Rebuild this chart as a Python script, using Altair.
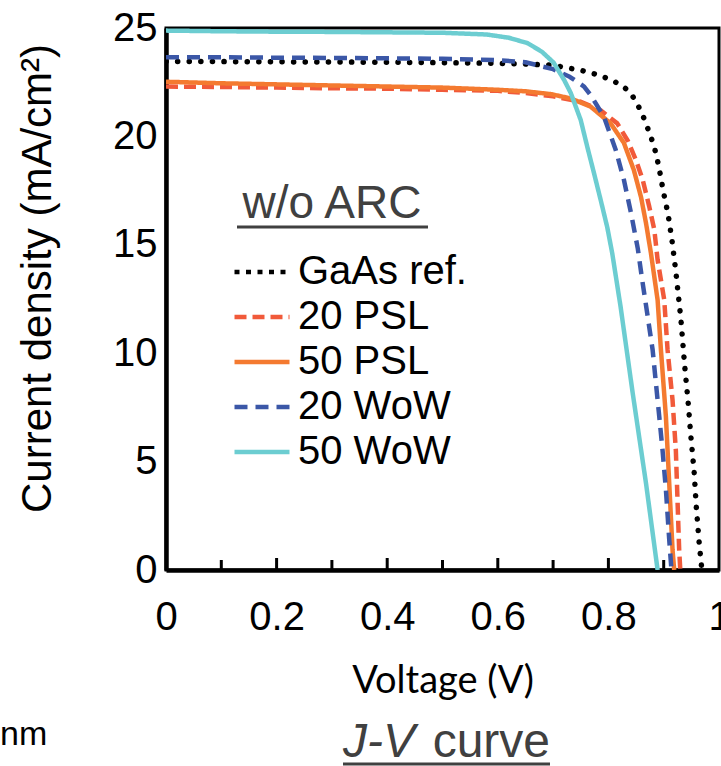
import altair as alt
import pandas as pd

# ---------------- data ----------------
series_names = ["GaAs ref.", "20 PSL", "50 PSL", "20 WoW", "50 WoW"]
series_colors = ["#000000", "#F15A3A", "#F47A30", "#3B57A7", "#6CCDD1"]
series_dashes = [[5, 6.5], [12, 6], [1, 0], [13, 8], [1, 0]]
ref_dots = [0.1, 11.5]

V_gaas = [0, 0.1, 0.2, 0.3, 0.4, 0.5, 0.6, 0.65, 0.7, 0.75, 0.78, 0.806, 0.824, 0.839, 0.85,
          0.86, 0.868, 0.875, 0.882, 0.887, 0.892, 0.899, 0.908, 0.915, 0.922, 0.931, 0.938,
          0.944, 0.949, 0.955, 0.959, 0.964, 0.969]
J_gaas = [23.45, 23.45, 23.44, 23.43, 23.42, 23.4, 23.37, 23.34, 23.28, 23.05, 22.85, 22.6, 22.35,
          22.05, 21.6, 21.1, 20.6, 20.1, 19.6, 19.1, 18.5, 17.5, 16.4, 15.2, 13.75, 11.6, 9.4,
          7.8, 6.2, 4.55, 2.9, 1.3, 0]

V_psl20 = [0, 0.1, 0.2, 0.3, 0.4, 0.5, 0.6, 0.65, 0.7, 0.75, 0.786, 0.816, 0.835, 0.85, 0.862,
           0.874, 0.883, 0.889, 0.901, 0.907, 0.916, 0.922, 0.925, 0.928, 0.93]
J_psl20 = [22.3, 22.28, 22.25, 22.22, 22.2, 22.15, 22.1, 22.0, 21.85, 21.6, 21.2, 20.6, 19.8,
           18.9, 18.0, 16.75, 15.7, 14.3, 12.45, 10.15, 7.84, 5.5, 3.2, 0.92, 0]

V_psl50 = [0, 0.1, 0.2, 0.3, 0.4, 0.5, 0.6, 0.65, 0.696, 0.732, 0.768, 0.804, 0.828, 0.846,
           0.859, 0.868, 0.877, 0.889, 0.895, 0.904, 0.91, 0.916, 0.919]
J_psl50 = [22.52, 22.45, 22.4, 22.35, 22.3, 22.25, 22.15, 22.08, 21.95, 21.75, 21.37, 20.6,
           19.7, 18.45, 17.2, 16.0, 14.6, 12.45, 10.15, 7.07, 4.0, 0.92, 0]

V_wow20 = [0, 0.1, 0.2, 0.3, 0.4, 0.5, 0.6, 0.65, 0.7, 0.73, 0.756, 0.768, 0.792, 0.813, 0.828,
           0.841, 0.853, 0.861, 0.871, 0.88, 0.886, 0.892, 0.898, 0.904, 0.91, 0.914]
J_wow20 = [23.65, 23.65, 23.63, 23.62, 23.6, 23.58, 23.52, 23.42, 23.1, 22.75, 22.3, 21.9, 20.9,
           19.4, 18.0, 16.45, 14.85, 13.4, 11.7, 10.15, 8.6, 7.07, 5.5, 3.7, 1.4, 0]

V_wow50 = [0, 0.1, 0.2, 0.3, 0.4, 0.5, 0.58, 0.62, 0.654, 0.68, 0.701, 0.72, 0.732, 0.75, 0.762,
           0.774, 0.786, 0.798, 0.807, 0.822, 0.844, 0.868, 0.889]
J_wow50 = [24.88, 24.85, 24.83, 24.82, 24.8, 24.78, 24.7, 24.55, 24.3, 23.9, 23.4, 22.6, 22.0,
           20.75, 19.5, 18.3, 17.07, 15.8, 14.6, 12.15, 8.15, 4.0, 0]

x_ticks_labeled = [0, 0.2, 0.4, 0.6, 0.8, 1]
x_ticks_major = [0.2, 0.4, 0.6, 0.8]
x_ticks_minor = [0.1, 0.3, 0.5, 0.7, 0.9]
y_ticks = [0, 5, 10, 15, 20, 25]

x_title = "Voltage (V)"
y_title = "Current density (mA/cm²)"
legend_heading = "w/o ARC"
left_note = "nm"
caption_italic = "J-V"
caption_plain = "curve"

# ---------------- table ----------------
rows = []
for name, vs, js in zip(series_names,
                        [V_gaas, V_psl20, V_psl50, V_wow20, V_wow50],
                        [J_gaas, J_psl20, J_psl50, J_wow20, J_wow50]):
    for v, j in zip(vs, js):
        rows.append({"series": name, "V": v, "J": j})
df = pd.DataFrame(rows)
df_ref = df[df["series"] == series_names[0]]
df_rest = df[df["series"] != series_names[0]]

W, H = 553, 542
x_scale = alt.Scale(domain=[0, 1], nice=False, zero=False)
y_scale = alt.Scale(domain=[0, 25], nice=False)

legend = alt.Legend(
    title=None, orient="none", legendX=66, legendY=221.5, padding=0,
    symbolType="stroke", symbolSize=3025, symbolStrokeWidth=4.5,
    labelFontSize=40, labelFont="Liberation Sans", labelColor="black", labelLimit=400,
    labelOffset=6, clipHeight=45, rowPadding=0,
)

x_axis = alt.Axis(
    values=x_ticks_labeled, format="~g", labelFontSize=40, labelFont="Liberation Sans",
    labelColor="black", labelPadding=27, labelFlush=False, labelOverlap=False,
    ticks=False, tickSize=0, grid=False, domainColor="black", domainWidth=4.5,
    title=x_title, titleFont="Lato", titleFontSize=38, titleFontWeight="normal",
    titleColor="black", titleY=122, titleBaseline="alphabetic")
y_axis = alt.Axis(
    values=y_ticks, labelFontSize=40, labelFont="Liberation Sans", labelColor="black",
    labelPadding=9, labelFlush=False, labelOverlap=False, ticks=False, tickSize=0,
    grid=False, domainColor="black", domainWidth=4.5,
    title=y_title, titleFont="Liberation Sans", titleFontSize=42, titleFontWeight="normal",
    titleColor="black", titleX=-116, titleY=250, titleAngle=270,
    titleBaseline="alphabetic", titleAlign="center")

color_enc = alt.Color("series:N", scale=alt.Scale(domain=series_names, range=series_colors), legend=legend)
dash_enc = alt.StrokeDash("series:N", scale=alt.Scale(domain=series_names, range=series_dashes), legend=legend)

ref_line = alt.Chart(df_ref).mark_line(
    strokeWidth=5.5, strokeCap="round", strokeDash=ref_dots, clip=True
).encode(
    x=alt.X("V:Q", scale=x_scale, axis=x_axis),
    y=alt.Y("J:Q", scale=y_scale, axis=y_axis),
    color=color_enc,
)

other_lines = alt.Chart(df_rest).mark_line(strokeWidth=4.5, strokeJoin="round", clip=True).encode(
    x=alt.X("V:Q", scale=x_scale, axis=x_axis),
    y=alt.Y("J:Q", scale=y_scale, axis=y_axis),
    color=color_enc,
    strokeDash=dash_enc,
)

tick_major = alt.Chart(pd.DataFrame({"V": x_ticks_major})).mark_rule(color="black", strokeWidth=3).encode(
    x=alt.X("V:Q", scale=x_scale), y=alt.value(H), y2=alt.value(H - 12))
tick_minor = alt.Chart(pd.DataFrame({"V": x_ticks_minor})).mark_rule(color="black", strokeWidth=3).encode(
    x=alt.X("V:Q", scale=x_scale), y=alt.value(H), y2=alt.value(H - 10))


def label(text, x, y, size, color="black", align="left", style="normal", font="Liberation Sans"):
    return alt.Chart(pd.DataFrame({"t": [text]})).mark_text(
        align=align, baseline="alphabetic", fontSize=size, font=font, color=color, fontStyle=style
    ).encode(text="t:N", x=alt.value(x), y=alt.value(y))


def underline(x1, x2, y, color="#404040"):
    return alt.Chart(pd.DataFrame({"a": [0]})).mark_rule(color=color, strokeWidth=3).encode(
        x=alt.value(x1), x2=alt.value(x2), y=alt.value(y))


heading = label(legend_heading, 166, 190, 46, color="#404040", align="center")
heading_ul = underline(71, 262, 199)
note = label(left_note, -166, 717, 34)
cap1 = label(caption_italic, 177, 729, 48, color="#404040", style="italic")
cap2 = label(caption_plain, 384, 729, 48, color="#404040", align="right")
cap_ul = underline(177, 384, 736)

chart = alt.layer(ref_line, other_lines, tick_major, tick_minor, heading, heading_ul,
                  note, cap1, cap2, cap_ul).properties(
    width=W, height=H,
    autosize=alt.AutoSizeParams(type="none"),
    padding={"left": 166, "top": 28, "right": 2, "bottom": 196},
    background="white",
).configure_view(stroke="black", strokeWidth=3)

chart.save("out.html", embed_options={"renderer": "svg", "actions": False})
